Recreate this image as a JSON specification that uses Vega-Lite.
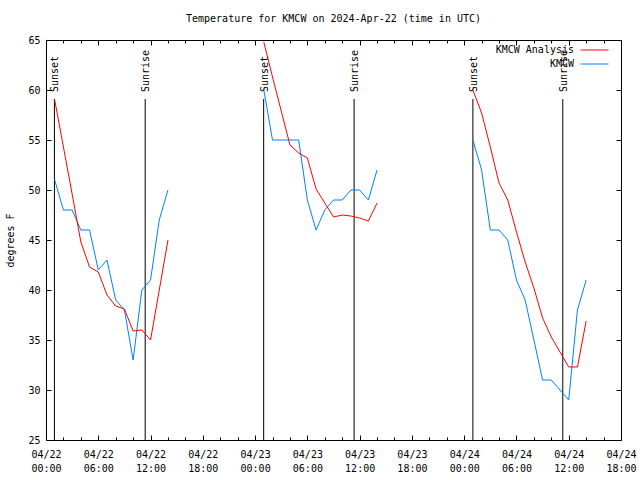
{
  "$schema": "https://vega.github.io/schema/vega-lite/v6.json",
  "width": 575,
  "height": 400,
  "autosize": {"type": "none"},
  "padding": {"left": 46, "top": 40, "right": 19, "bottom": 40},
  "background": "white",
  "config": {
    "view": {"stroke": "black", "strokeWidth": 1},
    "font": "DejaVu Sans Mono",
    "axis": {
      "grid": false,
      "domain": false,
      "labelFont": "DejaVu Sans Mono",
      "labelFontSize": 10,
      "labelColor": "black",
      "tickColor": "black",
      "tickWidth": 1,
      "titleFont": "DejaVu Sans Mono",
      "titleFontSize": 10,
      "titleFontWeight": "normal",
      "titleColor": "black"
    }
  },
  "title": {
    "text": "Temperature for KMCW on 2024-Apr-22 (time in UTC)",
    "font": "DejaVu Sans Mono",
    "fontSize": 10,
    "fontWeight": "normal",
    "color": "black",
    "anchor": "middle",
    "offset": 11
  },
  "datasets": {
    "temps": [
      {"time": "2024-04-22T01:00:00Z", "series": "KMCW Analysis", "night": 1, "temp": 59.0},
      {"time": "2024-04-22T02:00:00Z", "series": "KMCW Analysis", "night": 1, "temp": 54.3},
      {"time": "2024-04-22T03:00:00Z", "series": "KMCW Analysis", "night": 1, "temp": 49.6},
      {"time": "2024-04-22T04:00:00Z", "series": "KMCW Analysis", "night": 1, "temp": 44.8},
      {"time": "2024-04-22T05:00:00Z", "series": "KMCW Analysis", "night": 1, "temp": 42.3},
      {"time": "2024-04-22T06:00:00Z", "series": "KMCW Analysis", "night": 1, "temp": 41.8},
      {"time": "2024-04-22T07:00:00Z", "series": "KMCW Analysis", "night": 1, "temp": 39.5},
      {"time": "2024-04-22T08:00:00Z", "series": "KMCW Analysis", "night": 1, "temp": 38.4},
      {"time": "2024-04-22T09:00:00Z", "series": "KMCW Analysis", "night": 1, "temp": 38.1},
      {"time": "2024-04-22T10:00:00Z", "series": "KMCW Analysis", "night": 1, "temp": 35.9},
      {"time": "2024-04-22T11:00:00Z", "series": "KMCW Analysis", "night": 1, "temp": 36.0},
      {"time": "2024-04-22T12:00:00Z", "series": "KMCW Analysis", "night": 1, "temp": 35.0},
      {"time": "2024-04-22T13:00:00Z", "series": "KMCW Analysis", "night": 1, "temp": 40.0},
      {"time": "2024-04-22T14:00:00Z", "series": "KMCW Analysis", "night": 1, "temp": 45.0},
      {"time": "2024-04-23T01:00:00Z", "series": "KMCW Analysis", "night": 2, "temp": 64.8},
      {"time": "2024-04-23T02:00:00Z", "series": "KMCW Analysis", "night": 2, "temp": 61.3},
      {"time": "2024-04-23T03:00:00Z", "series": "KMCW Analysis", "night": 2, "temp": 57.9},
      {"time": "2024-04-23T04:00:00Z", "series": "KMCW Analysis", "night": 2, "temp": 54.5},
      {"time": "2024-04-23T05:00:00Z", "series": "KMCW Analysis", "night": 2, "temp": 53.7},
      {"time": "2024-04-23T06:00:00Z", "series": "KMCW Analysis", "night": 2, "temp": 53.2},
      {"time": "2024-04-23T07:00:00Z", "series": "KMCW Analysis", "night": 2, "temp": 50.1},
      {"time": "2024-04-23T08:00:00Z", "series": "KMCW Analysis", "night": 2, "temp": 48.7},
      {"time": "2024-04-23T09:00:00Z", "series": "KMCW Analysis", "night": 2, "temp": 47.3},
      {"time": "2024-04-23T10:00:00Z", "series": "KMCW Analysis", "night": 2, "temp": 47.5},
      {"time": "2024-04-23T11:00:00Z", "series": "KMCW Analysis", "night": 2, "temp": 47.4},
      {"time": "2024-04-23T12:00:00Z", "series": "KMCW Analysis", "night": 2, "temp": 47.2},
      {"time": "2024-04-23T13:00:00Z", "series": "KMCW Analysis", "night": 2, "temp": 46.9},
      {"time": "2024-04-23T14:00:00Z", "series": "KMCW Analysis", "night": 2, "temp": 48.7},
      {"time": "2024-04-24T01:00:00Z", "series": "KMCW Analysis", "night": 3, "temp": 60.0},
      {"time": "2024-04-24T02:00:00Z", "series": "KMCW Analysis", "night": 3, "temp": 57.7},
      {"time": "2024-04-24T03:00:00Z", "series": "KMCW Analysis", "night": 3, "temp": 54.3},
      {"time": "2024-04-24T04:00:00Z", "series": "KMCW Analysis", "night": 3, "temp": 50.7},
      {"time": "2024-04-24T05:00:00Z", "series": "KMCW Analysis", "night": 3, "temp": 49.0},
      {"time": "2024-04-24T06:00:00Z", "series": "KMCW Analysis", "night": 3, "temp": 45.8},
      {"time": "2024-04-24T07:00:00Z", "series": "KMCW Analysis", "night": 3, "temp": 42.8},
      {"time": "2024-04-24T08:00:00Z", "series": "KMCW Analysis", "night": 3, "temp": 40.2},
      {"time": "2024-04-24T09:00:00Z", "series": "KMCW Analysis", "night": 3, "temp": 37.2},
      {"time": "2024-04-24T10:00:00Z", "series": "KMCW Analysis", "night": 3, "temp": 35.3},
      {"time": "2024-04-24T11:00:00Z", "series": "KMCW Analysis", "night": 3, "temp": 33.8},
      {"time": "2024-04-24T12:00:00Z", "series": "KMCW Analysis", "night": 3, "temp": 32.3},
      {"time": "2024-04-24T13:00:00Z", "series": "KMCW Analysis", "night": 3, "temp": 32.3},
      {"time": "2024-04-24T14:00:00Z", "series": "KMCW Analysis", "night": 3, "temp": 36.9},
      {"time": "2024-04-22T01:00:00Z", "series": "KMCW", "night": 1, "temp": 51},
      {"time": "2024-04-22T02:00:00Z", "series": "KMCW", "night": 1, "temp": 48},
      {"time": "2024-04-22T03:00:00Z", "series": "KMCW", "night": 1, "temp": 48},
      {"time": "2024-04-22T04:00:00Z", "series": "KMCW", "night": 1, "temp": 46},
      {"time": "2024-04-22T05:00:00Z", "series": "KMCW", "night": 1, "temp": 46},
      {"time": "2024-04-22T06:00:00Z", "series": "KMCW", "night": 1, "temp": 42},
      {"time": "2024-04-22T07:00:00Z", "series": "KMCW", "night": 1, "temp": 43},
      {"time": "2024-04-22T08:00:00Z", "series": "KMCW", "night": 1, "temp": 39},
      {"time": "2024-04-22T09:00:00Z", "series": "KMCW", "night": 1, "temp": 38},
      {"time": "2024-04-22T10:00:00Z", "series": "KMCW", "night": 1, "temp": 33},
      {"time": "2024-04-22T11:00:00Z", "series": "KMCW", "night": 1, "temp": 40},
      {"time": "2024-04-22T12:00:00Z", "series": "KMCW", "night": 1, "temp": 41},
      {"time": "2024-04-22T13:00:00Z", "series": "KMCW", "night": 1, "temp": 47},
      {"time": "2024-04-22T14:00:00Z", "series": "KMCW", "night": 1, "temp": 50},
      {"time": "2024-04-23T01:00:00Z", "series": "KMCW", "night": 2, "temp": 60},
      {"time": "2024-04-23T02:00:00Z", "series": "KMCW", "night": 2, "temp": 55},
      {"time": "2024-04-23T03:00:00Z", "series": "KMCW", "night": 2, "temp": 55},
      {"time": "2024-04-23T04:00:00Z", "series": "KMCW", "night": 2, "temp": 55},
      {"time": "2024-04-23T05:00:00Z", "series": "KMCW", "night": 2, "temp": 55},
      {"time": "2024-04-23T06:00:00Z", "series": "KMCW", "night": 2, "temp": 49},
      {"time": "2024-04-23T07:00:00Z", "series": "KMCW", "night": 2, "temp": 46},
      {"time": "2024-04-23T08:00:00Z", "series": "KMCW", "night": 2, "temp": 48},
      {"time": "2024-04-23T09:00:00Z", "series": "KMCW", "night": 2, "temp": 49},
      {"time": "2024-04-23T10:00:00Z", "series": "KMCW", "night": 2, "temp": 49},
      {"time": "2024-04-23T11:00:00Z", "series": "KMCW", "night": 2, "temp": 50},
      {"time": "2024-04-23T12:00:00Z", "series": "KMCW", "night": 2, "temp": 50},
      {"time": "2024-04-23T13:00:00Z", "series": "KMCW", "night": 2, "temp": 49},
      {"time": "2024-04-23T14:00:00Z", "series": "KMCW", "night": 2, "temp": 52},
      {"time": "2024-04-24T01:00:00Z", "series": "KMCW", "night": 3, "temp": 55},
      {"time": "2024-04-24T02:00:00Z", "series": "KMCW", "night": 3, "temp": 52},
      {"time": "2024-04-24T03:00:00Z", "series": "KMCW", "night": 3, "temp": 46},
      {"time": "2024-04-24T04:00:00Z", "series": "KMCW", "night": 3, "temp": 46},
      {"time": "2024-04-24T05:00:00Z", "series": "KMCW", "night": 3, "temp": 45},
      {"time": "2024-04-24T06:00:00Z", "series": "KMCW", "night": 3, "temp": 41},
      {"time": "2024-04-24T07:00:00Z", "series": "KMCW", "night": 3, "temp": 39},
      {"time": "2024-04-24T08:00:00Z", "series": "KMCW", "night": 3, "temp": 35},
      {"time": "2024-04-24T09:00:00Z", "series": "KMCW", "night": 3, "temp": 31},
      {"time": "2024-04-24T10:00:00Z", "series": "KMCW", "night": 3, "temp": 31},
      {"time": "2024-04-24T11:00:00Z", "series": "KMCW", "night": 3, "temp": 30},
      {"time": "2024-04-24T12:00:00Z", "series": "KMCW", "night": 3, "temp": 29},
      {"time": "2024-04-24T13:00:00Z", "series": "KMCW", "night": 3, "temp": 38},
      {"time": "2024-04-24T14:00:00Z", "series": "KMCW", "night": 3, "temp": 41}
    ],
    "sun": [
      {"time": "2024-04-22T00:58:00Z", "event": "Sunset"},
      {"time": "2024-04-22T11:23:00Z", "event": "Sunrise"},
      {"time": "2024-04-23T00:59:00Z", "event": "Sunset"},
      {"time": "2024-04-23T11:22:00Z", "event": "Sunrise"},
      {"time": "2024-04-24T01:00:00Z", "event": "Sunset"},
      {"time": "2024-04-24T11:19:00Z", "event": "Sunrise"}
    ]
  },
  "layer": [
    {
      "data": {"name": "sun"},
      "mark": {"type": "rule", "color": "black", "strokeWidth": 1},
      "encoding": {
        "x": {
          "field": "time",
          "type": "temporal",
          "scale": {"type": "utc", "domain": [1713744000000, 1713981600000]},
          "axis": {
            "orient": "top",
            "values": [1713744000000, 1713765600000, 1713787200000, 1713808800000, 1713830400000, 1713852000000, 1713873600000, 1713895200000, 1713916800000, 1713938400000, 1713960000000, 1713981600000],
            "labels": false,
            "title": null,
            "tickSize": -5
          }
        },
        "y": {
          "datum": 59.1,
          "type": "quantitative",
          "scale": {"domain": [25, 65], "nice": false, "zero": false},
          "axis": {"orient": "right", "values": [25, 30, 35, 40, 45, 50, 55, 60, 65], "labels": false, "title": null, "tickSize": -5}
        },
        "y2": {"datum": 25}
      }
    },
    {
      "data": {"name": "sun"},
      "mark": {"type": "text", "angle": 270, "align": "left", "baseline": "middle", "dy": 1, "font": "DejaVu Sans Mono", "fontSize": 10, "color": "black"},
      "encoding": {
        "x": {
          "field": "time",
          "type": "temporal",
          "axis": {
            "orient": "top",
            "values": [1713751200000, 1713758400000, 1713772800000, 1713780000000, 1713794400000, 1713801600000, 1713816000000, 1713823200000, 1713837600000, 1713844800000, 1713859200000, 1713866400000, 1713880800000, 1713888000000, 1713902400000, 1713909600000, 1713924000000, 1713931200000, 1713945600000, 1713952800000, 1713967200000, 1713974400000],
            "labels": false,
            "title": null,
            "tickSize": -3
          }
        },
        "y": {"datum": 59.8, "type": "quantitative", "axis": null},
        "text": {"field": "event"}
      }
    },
    {
      "data": {"name": "temps"},
      "transform": [{"filter": "datum.series === 'KMCW'"}],
      "mark": {"type": "line", "strokeWidth": 1, "interpolate": "linear"},
      "encoding": {
        "x": {
          "field": "time",
          "type": "temporal",
          "axis": {
            "orient": "bottom",
            "values": [1713751200000, 1713758400000, 1713772800000, 1713780000000, 1713794400000, 1713801600000, 1713816000000, 1713823200000, 1713837600000, 1713844800000, 1713859200000, 1713866400000, 1713880800000, 1713888000000, 1713902400000, 1713909600000, 1713924000000, 1713931200000, 1713945600000, 1713952800000, 1713967200000, 1713974400000],
            "labels": false,
            "title": null,
            "tickSize": -3
          }
        },
        "y": {"field": "temp", "type": "quantitative", "axis": null},
        "color": {"field": "series", "type": "nominal"},
        "detail": {"field": "night", "type": "nominal"}
      }
    },
    {
      "data": {"name": "temps"},
      "transform": [{"filter": "datum.series === 'KMCW Analysis'"}],
      "mark": {"type": "line", "strokeWidth": 1, "interpolate": "linear"},
      "encoding": {
        "x": {
          "field": "time",
          "type": "temporal",
          "axis": {
            "orient": "bottom",
            "values": [1713744000000, 1713765600000, 1713787200000, 1713808800000, 1713830400000, 1713852000000, 1713873600000, 1713895200000, 1713916800000, 1713938400000, 1713960000000, 1713981600000],
            "tickSize": -5,
            "labelExpr": "[utcFormat(datum.value, '%m/%d'), utcFormat(datum.value, '%H:%M')]",
            "labelPadding": 14,
            "labelBaseline": "top",
            "labelLineHeight": 14,
            "labelOverlap": false,
            "labelFlush": false,
            "labelBound": false,
            "title": null
          }
        },
        "y": {
          "field": "temp",
          "type": "quantitative",
          "axis": {
            "orient": "left",
            "values": [25, 30, 35, 40, 45, 50, 55, 60, 65],
            "tickSize": -5,
            "labelPadding": 11,
            "title": "degrees F",
            "titlePadding": 12
          }
        },
        "color": {
          "field": "series",
          "type": "nominal",
          "scale": {"domain": ["KMCW Analysis", "KMCW"], "range": ["#ff0000", "#0080ff"]},
          "legend": {
            "orient": "none",
            "legendX": 543,
            "legendY": 4.5,
            "title": null,
            "padding": 0,
            "symbolType": "M-2.8,0H2.8",
            "symbolSize": 100,
            "symbolStrokeWidth": 1,
            "labelAlign": "right",
            "labelOffset": -26,
            "labelFont": "DejaVu Sans Mono",
            "labelFontSize": 10,
            "labelColor": "black",
            "rowPadding": 3,
            "encode": {
              "symbols": {
                "update": {
                  "stroke": {"scale": "color", "field": "value"},
                  "fill": {"value": "transparent"},
                  "opacity": {"value": 1}
                }
              }
            }
          }
        },
        "detail": {"field": "night", "type": "nominal"}
      }
    }
  ],
  "resolve": {"axis": {"x": "independent", "y": "independent"}}
}
